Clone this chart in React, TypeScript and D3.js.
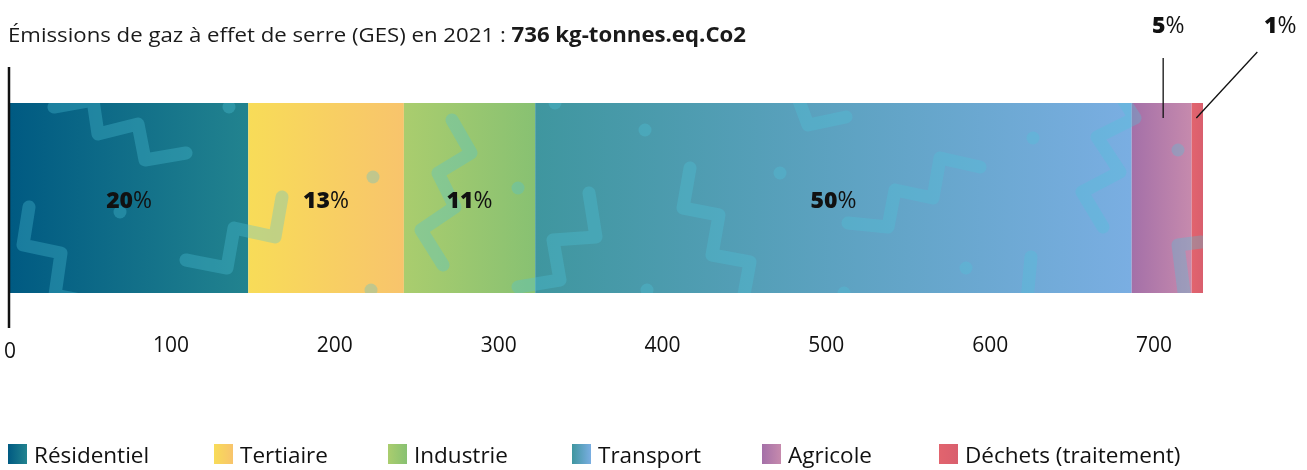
import React, { useEffect, useRef } from "react";
import * as d3 from "d3";

// ---- data ----
const categories = ["Résidentiel", "Tertiaire", "Industrie", "Transport", "Agricole", "Déchets (traitement)"];
const values = [147, 96, 81, 368, 37, 7];
const shares = [20, 13, 11, 50, 5, 1];
const gradientStart = ["#005a82", "#f8dc58", "#aacd6e", "#3f969f", "#a470a8", "#e2646e"];
const gradientEnd = ["#22838f", "#f8c46c", "#88c172", "#7aaee2", "#c68aad", "#d95f6e"];
const tickValues = [0, 100, 200, 300, 400, 500, 600, 700];
const totalValue = 736;
const titleRegular = "Émissions de gaz à effet de serre (GES) en 2021 : ";
const titleBold = "736 kg-tonnes.eq.Co2";

// ---- layout (not data) ----
const legendX = [8, 214, 388, 572, 762, 939];

// ---- decorative background pattern (not data) ----
const zigzags: number[][][] = [
  [[54, 107], [93, 100], [98, 134], [138, 124], [145, 160], [186, 153]],
  [[29, 207], [23, 245], [61, 253], [55, 295], [80, 300]],
  [[186, 260], [227, 268], [234, 228], [275, 237], [282, 197]],
  [[452, 120], [471, 153], [438, 173], [455, 207], [421, 230], [443, 265]],
  [[518, 287], [560, 280], [553, 240], [596, 237], [589, 193]],
  [[690, 168], [683, 208], [719, 215], [712, 255], [750, 262], [743, 300]],
  [[795, 90], [808, 125], [846, 117]],
  [[848, 223], [888, 227], [895, 190], [933, 198], [940, 158], [980, 167]],
  [[1118, 92], [1135, 118], [1097, 137], [1120, 172], [1082, 192], [1103, 227]],
  [[1031, 257], [1027, 300]],
  [[1201, 242], [1178, 245], [1185, 300]],
];
const dots: number[][] = [
  [229, 107], [373, 177], [518, 188], [120, 212], [371, 290], [555, 103],
  [645, 130], [780, 173], [1033, 138], [966, 268], [1178, 150], [647, 290], [844, 293],
];

const W = 1307;
const H = 470;
const FONT = "'Open Sans', 'Noto Sans', sans-serif";

export default function App() {
  const ref = useRef<SVGSVGElement | null>(null);

  useEffect(() => {
    document.body.style.margin = "0";
    const svg = d3.select(ref.current);
    svg.selectAll("*").remove();

    const barTop = 103;
    const barBottom = 293;
    const x = d3.scaleLinear().domain([0, totalValue]).range([10, 1203]);
    const xLabel = d3.scaleLinear().domain([100, 700]).range([171, 1154]);

    const cum: number[] = [];
    let acc = 0;
    values.forEach((v) => { cum.push(acc); acc += v; });
    const segs = values.map((v, i) => ({ i, start: cum[i], end: cum[i] + v }));

    const defs = svg.append("defs");
    categories.forEach((_, i) => {
      const g = defs.append("linearGradient").attr("id", `grad${i}`).attr("x1", 0).attr("x2", 1).attr("y1", 0).attr("y2", 0);
      g.append("stop").attr("offset", "0%").attr("stop-color", gradientStart[i]);
      g.append("stop").attr("offset", "100%").attr("stop-color", gradientEnd[i]);
    });
    defs.append("clipPath").attr("id", "barclip")
      .append("rect").attr("x", x(0)).attr("y", barTop)
      .attr("width", x(totalValue) - x(0)).attr("height", barBottom - barTop);

    // title
    const title = svg.append("text").attr("x", 8).attr("y", 42)
      .attr("font-family", FONT).attr("font-size", 20.5).attr("fill", "#1a1a1a")
      .attr("textLength", 738).attr("lengthAdjust", "spacingAndGlyphs");
    title.append("tspan").text(titleRegular);
    title.append("tspan").attr("font-weight", 700).text(titleBold);

    // bars
    const bars = svg.append("g");
    bars.selectAll("rect").data(segs).join("rect")
      .attr("x", (d) => x(d.start))
      .attr("y", barTop)
      .attr("width", (d) => x(d.end) - x(d.start))
      .attr("height", barBottom - barTop)
      .attr("fill", (d) => `url(#grad${d.i})`);

    // decorative pattern
    const deco = svg.append("g").attr("clip-path", "url(#barclip)");
    const inner = deco.append("g").style("mix-blend-mode", "screen").attr("opacity", 0.32);
    const line = d3.line<number[]>().x((p) => p[0]).y((p) => p[1]);
    inner.selectAll("path").data(zigzags).join("path")
      .attr("d", (d) => line(d))
      .attr("fill", "none")
      .attr("stroke", "#4cc4da")
      .attr("stroke-width", 13)
      .attr("stroke-linecap", "round")
      .attr("stroke-linejoin", "round");
    inner.selectAll("circle").data(dots).join("circle")
      .attr("cx", (d) => d[0]).attr("cy", (d) => d[1]).attr("r", 6.5)
      .attr("fill", "#4cc4da");

    // axis line
    svg.append("line").attr("x1", x(0) - 1).attr("x2", x(0) - 1)
      .attr("y1", 67).attr("y2", 328)
      .attr("stroke", "#111").attr("stroke-width", 2.5);

    // tick labels
    svg.append("g").selectAll("text").data(tickValues).join("text")
      .attr("x", (d) => (d === 0 ? x(0) : xLabel(d)))
      .attr("y", (d) => (d === 0 ? 358 : 352))
      .attr("text-anchor", "middle")
      .attr("font-family", FONT).attr("font-size", 21).attr("fill", "#111")
      .text((d) => String(d));

    // inside percentage labels
    const insideSegs = segs.filter((d) => shares[d.i] >= 10);
    const inLab = svg.append("g").selectAll("text").data(insideSegs).join("text")
      .attr("x", (d) => (x(d.start) + x(d.end)) / 2)
      .attr("y", 208)
      .attr("text-anchor", "middle")
      .attr("font-family", FONT).attr("font-size", 23).attr("fill", "#111");
    inLab.append("tspan").attr("font-weight", 800).text((d) => String(shares[d.i]));
    inLab.append("tspan").attr("font-weight", 400).text("%");

    // outside labels with leader lines
    const outsideSegs = segs.filter((d) => shares[d.i] < 10);
    const leaderDx = [1.5, 60];
    const labelDx = [6.5, 83];
    outsideSegs.forEach((d, k) => {
      const cx = (x(d.start) + x(d.end)) / 2;
      svg.append("line")
        .attr("x1", cx + (k === 0 ? leaderDx[0] : -1)).attr("y1", 118)
        .attr("x2", cx + leaderDx[k]).attr("y2", k === 0 ? 58 : 52)
        .attr("stroke", "#111").attr("stroke-width", 1.3);
      const t = svg.append("text").attr("x", cx + labelDx[k]).attr("y", 33)
        .attr("text-anchor", "middle")
        .attr("font-family", FONT).attr("font-size", 23).attr("fill", "#111");
      t.append("tspan").attr("font-weight", 800).text(String(shares[d.i]));
      t.append("tspan").attr("font-weight", 400).text("%");
    });

    // legend
    const legend = svg.append("g");
    categories.forEach((c, i) => {
      const lx = legendX[i];
      legend.append("rect").attr("x", lx).attr("y", 444).attr("width", 19).attr("height", 20)
        .attr("fill", `url(#grad${i})`);
      legend.append("text").attr("x", lx + 26).attr("y", 463)
        .attr("font-family", FONT).attr("font-size", 22.5).attr("fill", "#111").text(c);
    });
  }, []);

  return <svg ref={ref} width={W} height={H} style={{ display: "block", background: "#fff" }} />;
}
